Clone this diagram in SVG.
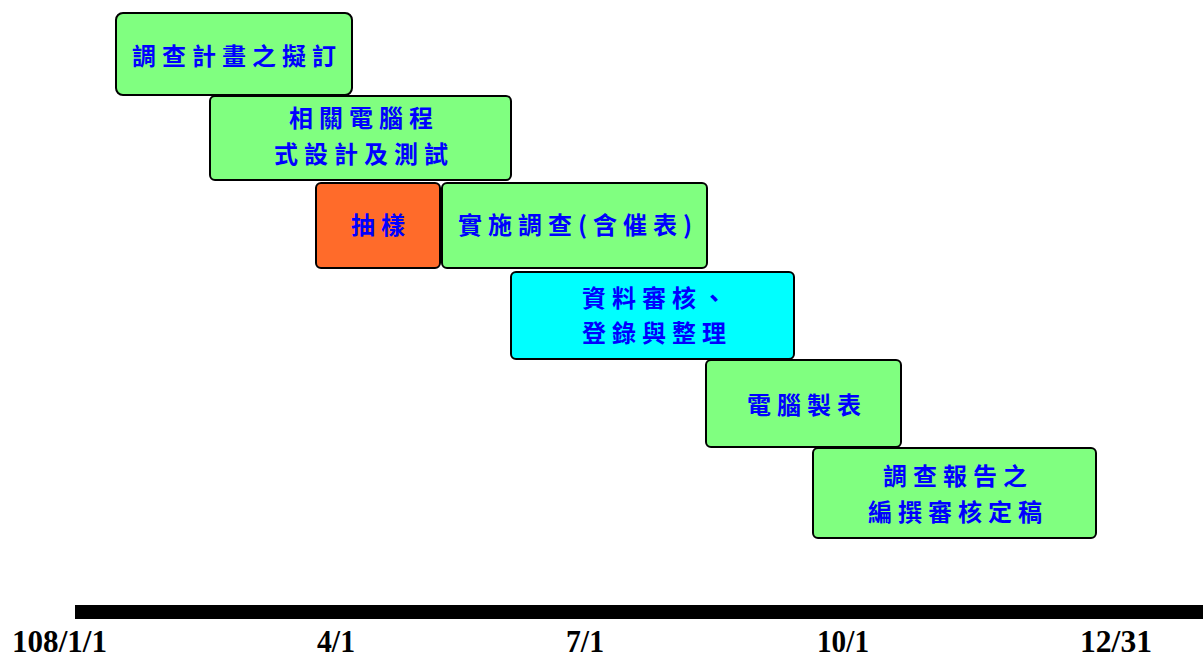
<svg xmlns="http://www.w3.org/2000/svg" width="1203" height="659" viewBox="0 0 1203 659">
<style>
.box{stroke:#000;stroke-width:2}
.g{fill:#80FF80}
.o{fill:#FF6B2A}
.c{fill:#00FFFF}
.t{font-family:"Noto Sans CJK TC","Noto Sans CJK SC",sans-serif;font-weight:bold;font-size:24px;fill:#0000FF;text-anchor:middle;letter-spacing:6px}
.d{font-family:"Liberation Serif",serif;font-weight:bold;font-size:32px;fill:#000}
</style>
<rect width="1203" height="659" fill="#fff"/>
<g id="n1"><rect class="box g" x="116" y="13" width="236" height="82" rx="7"/><text class="t" x="237" y="65">調查計畫之擬訂</text></g>
<g id="n2"><rect class="box g" x="210" y="96" width="301" height="84" rx="5"/><text class="t" x="364" y="127">相關電腦程</text><text class="t" x="364" y="163">式設計及測試</text></g>
<g id="n3"><rect class="box o" x="316" y="183" width="124" height="85" rx="5"/><text class="t" x="381" y="234">抽樣</text></g>
<g id="n4"><rect class="box g" x="442" y="183" width="265" height="85" rx="5"/><text class="t" x="578" y="234">實施調查(含催表)</text></g>
<g id="n5"><rect class="box c" x="511" y="272" width="283" height="87" rx="5"/><text class="t" x="657" y="307">資料審核、</text><text class="t" x="657" y="342">登錄與整理</text></g>
<g id="n6"><rect class="box g" x="706" y="360" width="195" height="87" rx="5"/><text class="t" x="807" y="414">電腦製表</text></g>
<g id="n7"><rect class="box g" x="813" y="448" width="283" height="90" rx="5"/><text class="t" x="958" y="485">調查報告之</text><text class="t" x="958" y="521">編撰審核定稿</text></g>
<g id="timeline">
<rect x="75" y="605" width="1128" height="14" fill="#000"/>
<text class="d" x="12" y="652" textLength="95" lengthAdjust="spacingAndGlyphs">108/1/1</text>
<text class="d" x="317" y="652" textLength="38" lengthAdjust="spacingAndGlyphs">4/1</text>
<text class="d" x="566" y="652" textLength="38" lengthAdjust="spacingAndGlyphs">7/1</text>
<text class="d" x="817" y="652" textLength="52" lengthAdjust="spacingAndGlyphs">10/1</text>
<text class="d" x="1080" y="652" textLength="72" lengthAdjust="spacingAndGlyphs">12/31</text>
</g>
</svg>
